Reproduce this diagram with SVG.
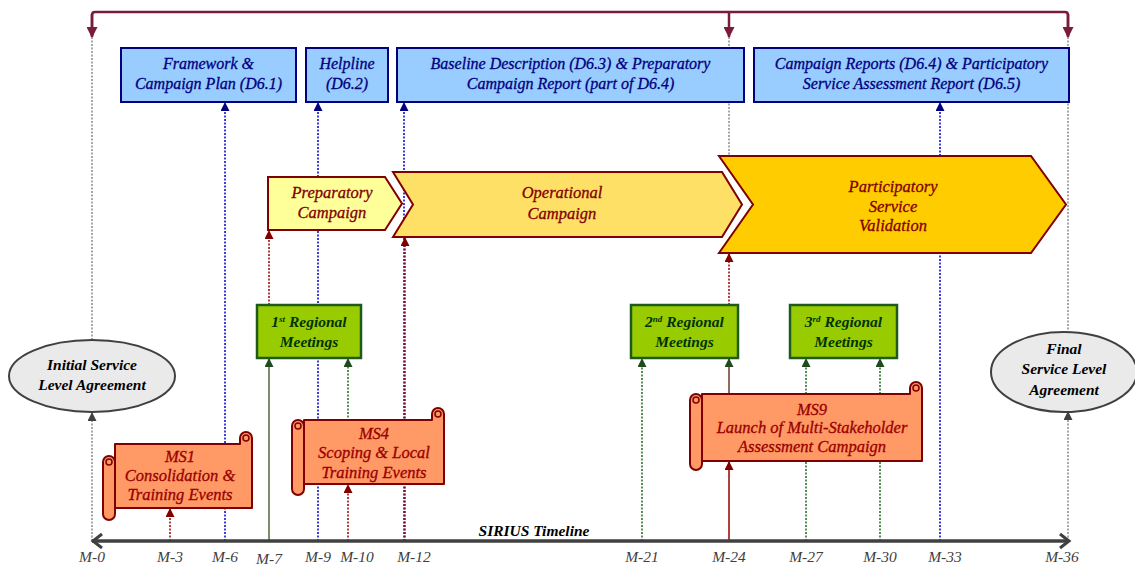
<svg xmlns="http://www.w3.org/2000/svg" width="1135" height="565" viewBox="0 0 1135 565" font-family="Liberation Serif, DejaVu Serif, serif">
<style>
text{font-style:italic;font-size:16px;text-anchor:middle;stroke-width:0.3px}
.blue{fill:#99CCFF;stroke:#000080;stroke-width:2}
.tb{fill:#000080;stroke:#000080}
.chev{stroke:#800000;stroke-width:2}
.tc{fill:#800000;stroke:#800000;font-size:16.5px}
.green{fill:#99CC00;stroke:#1E5A1E;stroke-width:2.5}
.tg{fill:#003300;font-weight:bold;font-size:15.5px}
.scroll{fill:#FF9966;stroke:#800000;stroke-width:2;stroke-linejoin:round}
.ts{fill:#990000;stroke:#990000;font-size:16.5px}
.ell{fill:#EAEAEA;stroke:#404040;stroke-width:2}
.tk{fill:#000;font-weight:bold;font-size:15.5px}
.lbl{fill:#404040;font-size:15.5px}
.c{fill:none;stroke-width:1.5}
.d{stroke-dasharray:2 1.5}
.cb{stroke:#0000CC}
.cr{stroke:#990000}
.cg{stroke:#1E6B1E}
.cy{stroke:#8C8C8C}
</style>
<defs>
<marker id="ab" markerUnits="userSpaceOnUse" markerWidth="9" markerHeight="9" refX="8" refY="4.5" orient="auto"><path d="M0,0 L9,4.5 L0,9 z" fill="#000080"/></marker>
<marker id="ar" markerUnits="userSpaceOnUse" markerWidth="9" markerHeight="9" refX="8" refY="4.5" orient="auto"><path d="M0,0 L9,4.5 L0,9 z" fill="#800000"/></marker>
<marker id="ag" markerUnits="userSpaceOnUse" markerWidth="9" markerHeight="9" refX="8" refY="4.5" orient="auto"><path d="M0,0 L9,4.5 L0,9 z" fill="#1E4A1E"/></marker>
<marker id="ay" markerUnits="userSpaceOnUse" markerWidth="9" markerHeight="9" refX="8" refY="4.5" orient="auto"><path d="M0,0 L9,4.5 L0,9 z" fill="#404040"/></marker>
<marker id="am" markerUnits="userSpaceOnUse" markerWidth="11" markerHeight="11" refX="10" refY="5.5" orient="auto"><path d="M0,0 L11,5.5 L0,11 z" fill="#7A1A3C"/></marker>
</defs>

<g id="connectors">
<path d="M92,36 V15 Q92,12 95,12 H1065 Q1068,12 1068,15 V36" fill="none" stroke="#7A1A3C" stroke-width="2.5"/>
<line x1="92" y1="14" x2="92" y2="37" stroke="#7A1A3C" stroke-width="2.5" marker-end="url(#am)"/>
<line x1="729" y1="12" x2="729" y2="37" stroke="#7A1A3C" stroke-width="2.5" marker-end="url(#am)"/>
<line x1="1068" y1="14" x2="1068" y2="37" stroke="#7A1A3C" stroke-width="2.5" marker-end="url(#am)"/>
<line class="c d cy" x1="92" y1="37" x2="92" y2="341"/>
<line class="c d cy" x1="92" y1="541" x2="92" y2="413" marker-end="url(#ay)"/>
<line class="c d cy" x1="1068" y1="37" x2="1068" y2="333"/>
<line class="c d cy" x1="1068" y1="541" x2="1068" y2="412" marker-end="url(#ay)"/>
<line class="c d cy" x1="729" y1="37" x2="729" y2="157"/>
<line class="c d cb" x1="225" y1="541" x2="225" y2="103" marker-end="url(#ab)"/>
<line class="c d cb" x1="318" y1="541" x2="318" y2="103" marker-end="url(#ab)"/>
<line class="c d cb" x1="404" y1="541" x2="404" y2="103" marker-end="url(#ab)"/>
<line class="c d cb" x1="940" y1="541" x2="940" y2="103" marker-end="url(#ab)"/>
<line class="c d cr" x1="170" y1="541" x2="170" y2="509" marker-end="url(#ar)"/>
<line class="c d cr" x1="269" y1="305" x2="269" y2="231" marker-end="url(#ar)"/>
<line class="c d cr" x1="348" y1="541" x2="348" y2="485" marker-end="url(#ar)"/>
<line class="c d cr" x1="405" y1="541" x2="405" y2="238" marker-end="url(#ar)"/>
<line class="c d cr" x1="729" y1="305" x2="729" y2="254" marker-end="url(#ar)"/>
<line class="c cr" x1="729" y1="541" x2="729" y2="462" marker-end="url(#ar)"/>
<line class="c" stroke="#4A6A3A" x1="269" y1="541" x2="269" y2="359" marker-end="url(#ag)"/>
<line class="c d cg" x1="348" y1="421" x2="348" y2="359" marker-end="url(#ag)"/>
<line class="c d cg" x1="642" y1="541" x2="642" y2="359" marker-end="url(#ag)"/>
<line class="c" stroke="#6B3A2A" x1="729" y1="393" x2="729" y2="359" marker-end="url(#ag)"/>
<line class="c d cg" x1="806" y1="541" x2="806" y2="359" marker-end="url(#ag)"/>
<line class="c d cg" x1="880" y1="541" x2="880" y2="359" marker-end="url(#ag)"/>
</g>

<g id="timeline">
<line x1="92" y1="541" x2="1069" y2="541" stroke="#404040" stroke-width="3.5"/>
<polyline points="102,534 93,541 102,548" fill="none" stroke="#404040" stroke-width="3"/>
<polyline points="1060,534 1069,541 1060,548" fill="none" stroke="#404040" stroke-width="3"/>
<text x="534" y="536" class="tk" fill="#333">SIRIUS Timeline</text>
<text x="92" y="562" class="lbl">M-0</text>
<text x="170" y="562" class="lbl">M-3</text>
<text x="225" y="562" class="lbl">M-6</text>
<text x="269" y="564" class="lbl">M-7</text>
<text x="318" y="562" class="lbl">M-9</text>
<text x="357" y="562" class="lbl">M-10</text>
<text x="414" y="562" class="lbl">M-12</text>
<text x="642" y="562" class="lbl">M-21</text>
<text x="729" y="562" class="lbl">M-24</text>
<text x="806" y="562" class="lbl">M-27</text>
<text x="880" y="562" class="lbl">M-30</text>
<text x="945" y="562" class="lbl">M-33</text>
<text x="1062" y="562" class="lbl">M-36</text>
</g>

<g id="d61"><rect class="blue" x="121" y="48" width="175" height="54"/><text class="tb" x="208.5" y="69">Framework &amp;</text><text class="tb" x="208.5" y="89">Campaign Plan (D6.1)</text></g>
<g id="d62"><rect class="blue" x="306" y="48" width="82" height="54"/><text class="tb" x="347" y="69">Helpline</text><text class="tb" x="347" y="89">(D6.2)</text></g>
<g id="d63"><rect class="blue" x="397" y="48" width="347" height="54"/><text class="tb" x="570.5" y="69">Baseline Description (D6.3) &amp; Preparatory</text><text class="tb" x="570.5" y="89">Campaign Report (part of D6.4)</text></g>
<g id="d64"><rect class="blue" x="754" y="48" width="315" height="54"/><text class="tb" x="911.5" y="69">Campaign Reports (D6.4) &amp; Participatory</text><text class="tb" x="911.5" y="89">Service Assessment Report (D6.5)</text></g>

<g id="prep"><path class="chev" fill="#FFFF99" d="M268,177 H385 L402,203.5 L385,230 H268 Z"/><text class="tc" x="332" y="198">Preparatory</text><text class="tc" x="332" y="218">Campaign</text></g>
<g id="oper"><path class="chev" fill="#FFE066" d="M393,172 H722 L742,204.5 L722,237 H393 L413,204.5 Z"/><text class="tc" x="562" y="198">Operational</text><text class="tc" x="562" y="219">Campaign</text></g>
<g id="part"><path class="chev" fill="#FFCC00" d="M719,156 H1031 L1066,204.5 L1031,253 H719 L753,204.5 Z"/><text class="tc" x="893" y="192">Participatory</text><text class="tc" x="893" y="212">Service</text><text class="tc" x="893" y="231">Validation</text></g>

<g id="rm1"><rect class="green" x="257" y="305" width="104" height="53"/><text class="tg" x="309" y="327">1<tspan font-size="9" dy="-5">st</tspan><tspan dy="5"> Regional</tspan></text><text class="tg" x="309" y="347">Meetings</text></g>
<g id="rm2"><rect class="green" x="631" y="305" width="107" height="53"/><text class="tg" x="684.5" y="327">2<tspan font-size="9" dy="-5">nd</tspan><tspan dy="5"> Regional</tspan></text><text class="tg" x="684.5" y="347">Meetings</text></g>
<g id="rm3"><rect class="green" x="790" y="305" width="107" height="53"/><text class="tg" x="843.5" y="327">3<tspan font-size="9" dy="-5">rd</tspan><tspan dy="5"> Regional</tspan></text><text class="tg" x="843.5" y="347">Meetings</text></g>

<g id="sla-initial"><ellipse class="ell" cx="92" cy="376" rx="83" ry="36"/><text class="tk" x="92" y="370">Initial Service</text><text class="tk" x="92" y="390">Level Agreement</text></g>
<g id="sla-final"><ellipse class="ell" cx="1064" cy="372" rx="73" ry="40"/><text class="tk" x="1064" y="354">Final</text><text class="tk" x="1064" y="374">Service Level</text><text class="tk" x="1064" y="395">Agreement</text></g>

<g id="ms1">
<path class="scroll" d="M115,444 H240 V438 A6,6 0 0 1 252,438 V508 H115 V514 A6,6 0 0 1 103,514 V462 A6,6 0 0 1 115,462 Z"/>
<path d="M115,462 V508 M240,438 V444" fill="none" stroke="#800000" stroke-width="2"/>
<circle cx="109" cy="462" r="3" fill="none" stroke="#800000" stroke-width="1.5"/>
<circle cx="246" cy="438" r="3" fill="none" stroke="#800000" stroke-width="1.5"/>
<text class="ts" x="180" y="462">MS1</text><text class="ts" x="180" y="481">Consolidation &amp;</text><text class="ts" x="180" y="500">Training Events</text>
</g>
<g id="ms4">
<path class="scroll" d="M304,420 H432 V414 A6,6 0 0 1 444,414 V484 H304 V489 A6,6 0 0 1 292,489 V426 A6,6 0 0 1 304,426 Z"/>
<path d="M304,426 V484 M432,414 V420" fill="none" stroke="#800000" stroke-width="2"/>
<circle cx="298" cy="426" r="3" fill="none" stroke="#800000" stroke-width="1.5"/>
<circle cx="438" cy="414" r="3" fill="none" stroke="#800000" stroke-width="1.5"/>
<text class="ts" x="374" y="439">MS4</text><text class="ts" x="374" y="458">Scoping &amp; Local</text><text class="ts" x="374" y="478">Training Events</text>
</g>
<g id="ms9">
<path class="scroll" d="M702,394 H910 V388 A6,6 0 0 1 922,388 V461 H702 V464 A6,6 0 0 1 690,464 V400 A6,6 0 0 1 702,400 Z"/>
<path d="M702,400 V461 M910,388 V394" fill="none" stroke="#800000" stroke-width="2"/>
<circle cx="696" cy="400" r="3" fill="none" stroke="#800000" stroke-width="1.5"/>
<circle cx="916" cy="388" r="3" fill="none" stroke="#800000" stroke-width="1.5"/>
<text class="ts" x="812" y="415">MS9</text><text class="ts" x="812" y="433">Launch of Multi-Stakeholder</text><text class="ts" x="812" y="452">Assessment Campaign</text>
</g>
</svg>
